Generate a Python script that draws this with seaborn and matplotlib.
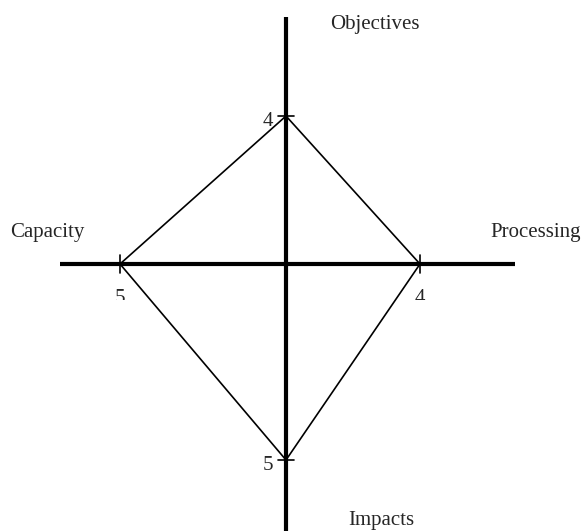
import numpy as np
import pandas as pd
import matplotlib
matplotlib.use('Agg')
import matplotlib.pyplot as plt
import seaborn as sns
from matplotlib.transforms import Bbox, TransformedBbox

# Data: one value per axis, axes going up, right, down, left
axis_names = ['Objectives', 'Processing', 'Impacts', 'Capacity']
axis_values = [4, 4, 5, 5]
axis_dirs = [(0, 1), (1, 0), (0, -1), (-1, 0)]
# each axis has its own length per unit (display units, 1 = 1 px)
axis_unit = [37.0, 33.5, 39.2, 33.2]

sns.set_style('white')
plt.rcParams['font.family'] = ['Liberation Serif', 'DejaVu Serif']

fig = plt.figure(figsize=(5.83, 5.31), dpi=100)
ax = fig.add_axes([0, 0, 1, 1])
# pixel-like coordinates centred on the crossing
ax.set_xlim(-286, 297)
ax.set_ylim(-267, 264)
ax.axis('off')

# the cross
ax.plot([-226, 229], [0, 0], color='black', lw=3, solid_capstyle='butt', zorder=1)
ax.plot([0, 0], [-270, 247], color='black', lw=3, solid_capstyle='butt', zorder=1)

# diamond through the values
pts = pd.DataFrame({
    'x': [d[0] * v * u for d, v, u in zip(axis_dirs, axis_values, axis_unit)],
    'y': [d[1] * v * u for d, v, u in zip(axis_dirs, axis_values, axis_unit)],
})
pts = pd.concat([pts, pts.iloc[[0]]], ignore_index=True)
sns.lineplot(data=pts, x='x', y='y', sort=False, estimator=None, color='black',
             lw=1.2, ax=ax, zorder=2)

clip = TransformedBbox(Bbox([[-300, -36], [300, 270]]), ax.transData)
for x, y, v, (dx, dy) in zip(pts['x'][:4], pts['y'][:4], axis_values, axis_dirs):
    if dx == 0:
        # tick across the vertical axis
        ax.plot([x - 8, x + 8], [y, y], color='black', lw=1.2, zorder=3)
        ax.text(x - 13, y - 6, str(v), ha='right', va='center', fontsize=15)
    else:
        ax.plot([x, x], [y - 9, y + 9], color='black', lw=1.2, zorder=3)
        t = ax.text(x, y - 25, str(v), ha='center', va='top', fontsize=15)
        t.set_clip_box(clip)
        t.set_clip_on(True)

# axis names
ax.text(89, 240, 'Objectives', ha='center', va='center', fontsize=15)
ax.text(250, 31, 'Processing', ha='center', va='center', fontsize=15)
ax.text(-239, 31, 'Capacity', ha='center', va='center', fontsize=15)
ax.text(95, -257, 'Impacts', ha='center', va='center', fontsize=15)

fig.savefig('out.png', dpi=100)
